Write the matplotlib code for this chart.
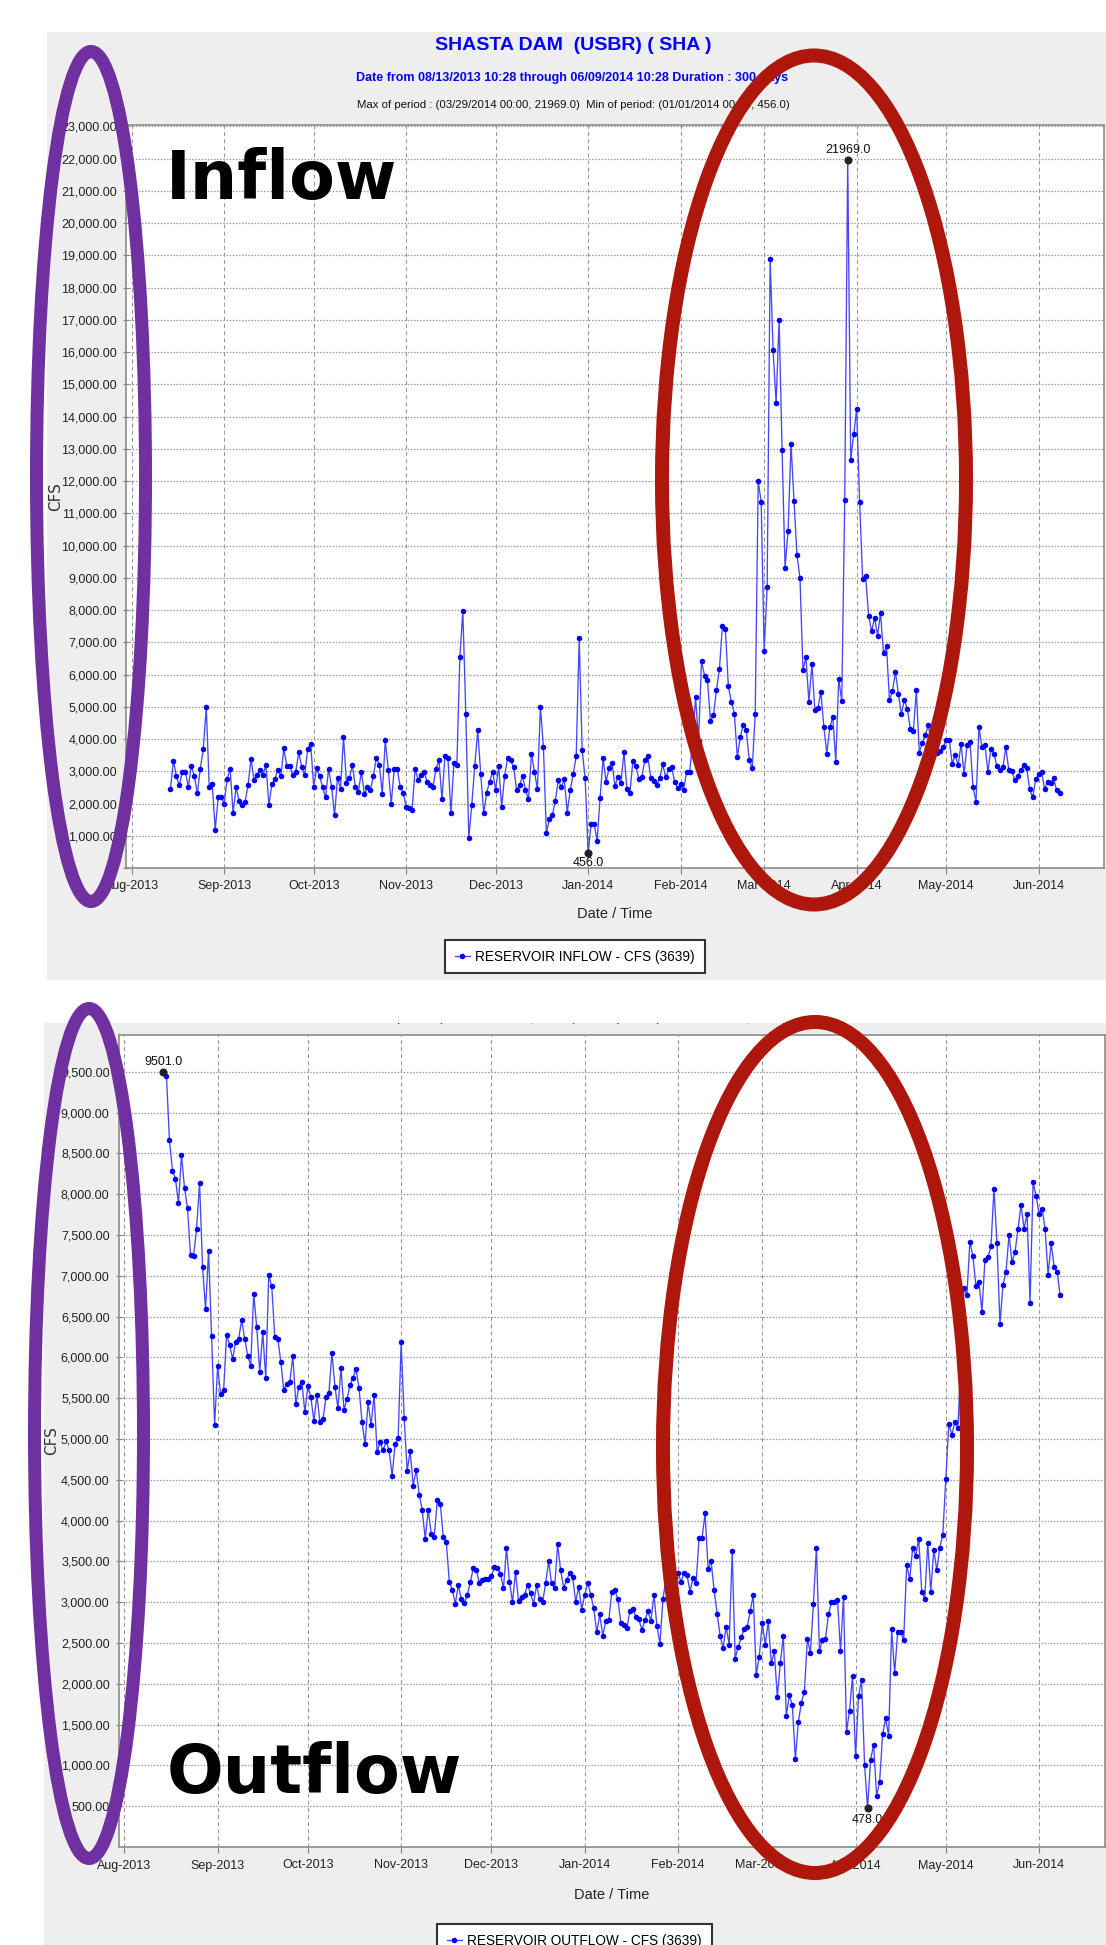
import numpy as np
import pandas as pd
import matplotlib
matplotlib.use('Agg')
import matplotlib.pyplot as plt
import matplotlib.dates as mdates
from matplotlib.patches import Rectangle, Ellipse
from matplotlib.ticker import FixedLocator, FuncFormatter
from matplotlib.transforms import Bbox, TransformedBbox

# daily values (14 Aug 2013 .. 8 Jun 2014)
start_date = '2013-08-14'

inflow_cfs = [
    2450, 3330, 2840, 2560, 2990, 2990, 2520, 3170, 2850, 2320, 3080, 3680, 5000, 2500, 2600, 1190, 2190, 2190,
    2000, 2760, 3070, 1700, 2500, 2090, 1940, 2050, 2560, 3380, 2740, 2880, 3040, 2880, 3200, 1960, 2600, 2760,
    3050, 2840, 3710, 3170, 3170, 2880, 2990, 3590, 3140, 2880, 3700, 3860,
    2520, 3090, 2850, 2500, 2190, 3080, 2520, 1640, 2800, 2460, 4060, 2640, 2800, 3200, 2500, 2370, 2990, 2290,
    2500, 2420, 2840, 3410, 3200, 2300, 3970, 3050, 2000, 3070, 3070, 2520, 2340,
    1890, 1860, 1800, 3070, 2740, 2880, 2990, 2680, 2560, 2520, 3080, 3340, 2130, 3460, 3410, 1700, 3250, 3200,
    6540, 7960, 4780, 930, 1960, 3170, 4270, 2900, 1700, 2340, 2680, 2990,
    2420, 3170, 1900, 2850, 3410, 3340, 3140, 2420, 2560, 2850, 2420, 2130, 3530, 2990, 2450, 5000, 3760, 1080,
    1510, 1630, 2090, 2730, 2500, 2750, 1720, 2420, 2910, 3470, 7120, 3650, 2780,
    456, 1370, 1370, 850, 2160, 3400, 2680, 3090, 3260, 2540, 2830, 2640, 3600, 2440, 2340, 3320, 3160, 2750,
    2830, 3360, 3470, 2780, 2710, 2570, 2780, 3220, 2810, 3060, 3120, 2680, 2470,
    2610, 2420, 2990, 2970, 3900, 5300, 3950, 6410, 5970, 5840, 4550, 4740, 5510, 6160, 7520, 7400, 5630, 5150,
    4790, 3430, 4070, 4450, 4270, 3350, 3090, 4770, 12000, 11350,
    6730, 8720, 18890, 16060, 14410, 17010, 12950, 9320, 10440, 13150, 11390, 9700, 8990, 6130, 6540, 5150,
    6320, 4890, 4960, 5460, 4380, 3550, 4360, 4690, 3300, 5870, 5170, 11420, 21969, 12660, 13450,
    14230, 11340, 8960, 9060, 7830, 7340, 7760, 7210, 7900, 6660, 6870, 5200, 5490, 6080, 5390, 4770, 5220,
    4920, 4310, 4240, 5510, 3570, 3880, 4120, 4430, 3900, 3700, 3580, 3640, 3740,
    3980, 3980, 3240, 3500, 3190, 3840, 2910, 3810, 3910, 2500, 2060, 4370, 3740, 3810, 2980, 3700, 3550, 3160,
    3040, 3120, 3740, 3040, 3020, 2730, 2850, 3040, 3190, 3090, 2440, 2190, 2750,
    2910, 2980, 2440, 2680, 2640, 2780, 2420, 2340,
]

outflow_cfs = [
    9501, 9450, 8660, 8290, 8190, 7890, 8480, 8080, 7830, 7250, 7240, 7570, 8140, 7110, 6590, 7300, 6260, 5170,
    5890, 5550, 5600, 6280, 6150, 5980, 6190, 6230, 6460, 6230, 6020, 5900, 6780, 6370, 5820, 6310, 5750, 7010,
    6870, 6250, 6230, 5950, 5600, 5680, 5700, 6020, 5430, 5640, 5700, 5330,
    5650, 5510, 5220, 5540, 5210, 5240, 5510, 5570, 6060, 5640, 5380, 5870, 5360, 5490, 5660, 5750, 5860, 5620,
    5210, 4940, 5450, 5170, 5540, 4840, 4960, 4860, 4970, 4860, 4550, 4940, 5010,
    6190, 5260, 4610, 4850, 4430, 4620, 4320, 4130, 3780, 4130, 3840, 3800, 4250, 4210, 3800, 3740, 3250, 3150,
    2980, 3210, 3040, 2990, 3090, 3250, 3420, 3390, 3230, 3270, 3280, 3290,
    3320, 3430, 3420, 3350, 3170, 3660, 3250, 3000, 3370, 3020, 3070, 3090, 3210, 3110, 2980, 3210, 3040, 3000,
    3230, 3500, 3230, 3170, 3710, 3390, 3180, 3270, 3360, 3310, 3000, 3190, 2910,
    3090, 3240, 3090, 2930, 2630, 2850, 2590, 2770, 2780, 3130, 3150, 3040, 2750, 2720, 2680, 2890, 2920, 2820,
    2790, 2660, 2780, 2890, 2770, 3090, 2710, 2490, 3040, 3290, 3360, 3270, 3300,
    3360, 3250, 3360, 3330, 3130, 3300, 3230, 3790, 3790, 4090, 3410, 3500, 3150, 2860, 2590, 2440, 2700, 2480,
    3630, 2310, 2450, 2570, 2670, 2700, 2890, 3090, 2110, 2330,
    2750, 2480, 2770, 2250, 2400, 1840, 2250, 2590, 1610, 1860, 1740, 1080, 1530, 1770, 1900, 2550, 2380, 2980,
    3670, 2400, 2540, 2550, 2850, 3000, 3000, 3030, 2400, 3070, 1410, 1670, 2100,
    1110, 1850, 2050, 1010, 478, 1070, 1250, 630, 800, 1380, 1580, 1360, 2670, 2130, 2640, 2630, 2540, 3460,
    3280, 3670, 3570, 3780, 3130, 3040, 3730, 3130, 3640, 3390, 3670, 3830,
    4510, 5190, 5050, 5210, 5130, 5900, 6850, 6760, 7420, 7240, 6880, 6930, 6560, 7190, 7230, 7360, 8070, 7400,
    6410, 6890, 7050, 7500, 7170, 7290, 7580, 7870, 7580, 7760, 6670, 8150, 7980,
    7760, 7820, 7570, 7010, 7400, 7110, 7050, 6760,
]

inflow_label = 'RESERVOIR INFLOW - CFS (3639)'
outflow_label = 'RESERVOIR OUTFLOW - CFS (3639)'
title = 'SHASTA DAM  (USBR) ( SHA )'
subtitle = 'Date from 08/13/2013 10:28 through 06/09/2014 10:28 Duration : 300 days'
inflow_stats = 'Max of period : (03/29/2014 00:00, 21969.0)  Min of period: (01/01/2014 00:00, 456.0)'
outflow_stats = 'Max of period : (08/14/2013 00:00, 9501.0)  Min of period: (04/05/2014 00:00, 478.0)'
inflow_ticks = list(range(0, 23001, 1000))
outflow_ticks = list(range(500, 9501, 500))

plt.rcParams['font.family'] = ['Liberation Sans', 'DejaVu Sans']

W, H = 1106, 1945
fig = plt.figure(figsize=(W / 100, H / 100), dpi=100)


def fx(x):
    return x / W


def fy(y):
    return 1 - y / H


# grey chart panels
top_panel = Rectangle((fx(47), fy(980)), 1 - fx(47), fy(32) - fy(980), transform=fig.transFigure,
                      facecolor='#eeeeee', edgecolor='none', zorder=-5)
bot_panel = Rectangle((fx(44), 0), 1 - fx(44), fy(1023), transform=fig.transFigure,
                      facecolor='#eeeeee', edgecolor='none', zorder=-5)
fig.add_artist(top_panel)
fig.add_artist(bot_panel)

fig.text(fx(573), fy(46), title, ha='center', va='center', color='#0000ff', fontsize=14, fontweight='bold')
fig.text(fx(572), fy(78), subtitle, ha='center', va='center', color='#0000ff', fontsize=9, fontweight='bold')
fig.text(fx(573), fy(105), inflow_stats, ha='center', va='center', color='#111111', fontsize=8.2)
# the cut-off header line of the second screenshot, only its lowest pixels show
t = fig.text(fx(573), fy(1022.5), outflow_stats, ha='center', va='baseline', color='#111111', fontsize=8.2)
t.set_clip_box(TransformedBbox(Bbox([[fx(44), 0], [1, fy(1023)]]), fig.transFigure))

ax1 = fig.add_axes([fx(126), fy(868), fx(1104) - fx(126), fy(125) - fy(868)])
ax2 = fig.add_axes([fx(118.6), fy(1847), fx(1105) - fx(118.6), fy(1035) - fy(1847)])


def yfmt(v, p):
    return '0' if v == 0 else f'{v:,.2f}'


def draw_series(ax, values, label, ticks, ylabel_x, xlabel_y, min_off):
    dates = pd.date_range(start_date, periods=len(values), freq='D')
    span = dates[-1] - dates[0]
    line, = ax.plot(dates, values, color='#4646ff', lw=0.95, marker='o', ms=4.0,
                    mfc='#0000ff', mec='#0000ff', mew=0, label=label, zorder=3)
    i_max = int(np.argmax(values))
    i_min = int(np.argmin(values))
    for i, off, va in [(i_max, 3, 'bottom'), (i_min, min_off, 'top')]:
        ax.plot(dates[i], values[i], 'o', color='#222222', ms=4.8, zorder=4)
        ax.annotate(f'{values[i]:.1f}', (dates[i], values[i]), xytext=(0, off), textcoords='offset points',
                    ha='center', va=va, fontsize=9, color='#111111', zorder=5)

    ax.set_xlim(dates[0] - 0.05 * span, dates[-1] + 0.05 * span)
    ax.set_ylim(0, max(values) + 0.05 * (max(values) - min(values)))
    ax.yaxis.set_major_locator(FixedLocator(ticks))
    ax.yaxis.set_major_formatter(FuncFormatter(yfmt))
    ax.xaxis.set_major_locator(mdates.MonthLocator())
    ax.xaxis.set_major_formatter(mdates.DateFormatter('%b-%Y'))
    ax.grid(axis='x', color='#999999', linestyle=(0, (3.6, 2.8)), linewidth=0.8)
    ax.grid(axis='y', color='#999999', linestyle=(0, (1.2, 1.3)), linewidth=0.9)
    ax.set_axisbelow(True)
    for s in ax.spines.values():
        s.set_color('#8c8c8c')
        s.set_linewidth(1.2)
    ax.tick_params(axis='y', direction='inout', length=5, width=0.8, color='#808080', pad=4,
                   labelsize=9, labelcolor='#222222')
    ax.tick_params(axis='x', direction='out', length=4, width=0.8, color='#808080', pad=5,
                   labelsize=9, labelcolor='#222222')
    ax.set_xlabel('Date / Time', fontsize=10.5, color='#222222')
    ax.xaxis.set_label_coords(0.5, xlabel_y)
    ax.set_ylabel('CFS', fontfamily='DejaVu Sans', fontsize=11, color='#333333')
    ax.yaxis.set_label_coords(ylabel_x, 0.5)
    return line


line1 = draw_series(ax1, inflow_cfs, inflow_label, inflow_ticks, -0.0647, -0.0525, -3)
line2 = draw_series(ax2, outflow_cfs, outflow_label, outflow_ticks, -0.060, -0.0505, -4)

for line, lab, cx, top in [(line1, inflow_label, 575, 940), (line2, outflow_label, 574.5, 1924)]:
    leg = fig.legend(handles=[line], labels=[lab], loc='upper center', bbox_to_anchor=(fx(cx), fy(top)),
                     bbox_transform=fig.transFigure, frameon=True, fancybox=False, edgecolor='#333333',
                     facecolor='white', framealpha=1, handlelength=1.1, handletextpad=0.4,
                     borderpad=0.7, borderaxespad=0, fontsize=9.8)
    leg.get_frame().set_linewidth(1.5)

# the annotations drawn over the screenshots
fig.text(fx(166), fy(199), 'Inflow', ha='left', va='baseline', fontfamily='DejaVu Sans',
         fontweight='bold', fontsize=48, color='black', zorder=15)
fig.text(fx(167), fy(1793), 'Outflow', ha='left', va='baseline', fontfamily='DejaVu Sans',
         fontweight='bold', fontsize=48, color='black', zorder=15)


def ring(cx, cy, w, h, color, lw_px):
    fig.add_artist(Ellipse((fx(cx), fy(cy)), w / W, h / H, transform=fig.transFigure, fill=False,
                           edgecolor=color, linewidth=lw_px * 0.72, zorder=20))


ring(91, 476.5, 109, 850, '#7030a0', 13)
ring(89, 1433.5, 109, 850, '#7030a0', 13)
ring(814, 480, 304, 849, '#ae180c', 14)
ring(815, 1447.5, 304, 851, '#ae180c', 14)

fig.savefig('out.png', dpi=100)
